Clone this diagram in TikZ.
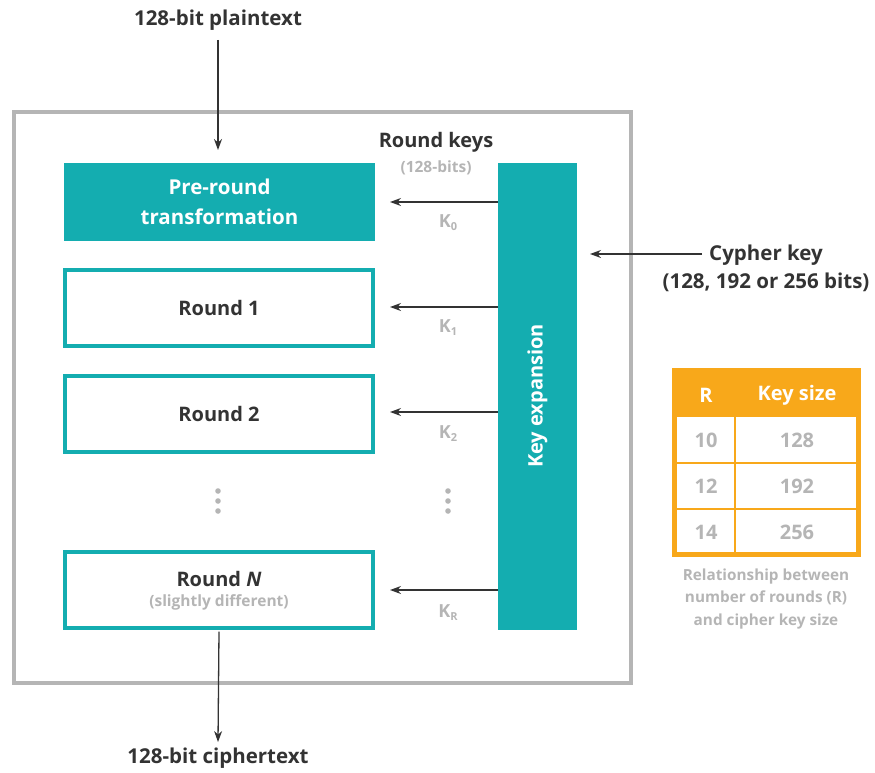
\documentclass[tikz,border=0pt]{standalone}
\usepackage{fontspec}
\setmainfont{Open Sans}
\usetikzlibrary{arrows.meta}
\definecolor{teal1}{HTML}{14ADB0}
\definecolor{dark}{HTML}{333333}
\definecolor{lgray}{HTML}{B5B5B5}
\definecolor{orng}{HTML}{F8A81A}
\tikzset{
  title/.style={text=dark, font=\bfseries\fontsize{20.5}{24}\selectfont},
  roundbox/.style={draw=teal1, line width=4pt, fill=white, minimum width=308pt, minimum height=76pt, inner sep=0pt, text=dark, font=\bfseries\fontsize{20}{24}\selectfont},
  arr/.style={draw=dark, line width=1.3pt, -{Stealth[length=11pt,width=8pt]}},
  klabel/.style={text=lgray, font=\bfseries\fontsize{18}{18}\selectfont},
  dotc/.style={fill=lgray, draw=none},
  celltxt/.style={text=lgray, font=\bfseries\fontsize{20}{20}\selectfont},
  captxt/.style={text=lgray, font=\bfseries\fontsize{15.3}{22.5}\selectfont, align=center}
}
\newcommand{\ksub}[1]{K{\fontsize{11}{11}\selectfont\raisebox{-3pt}{#1}}}
\begin{document}
\begin{tikzpicture}[x=1pt,y=-1pt]
\useasboundingbox (0,0) rectangle (875,772);
% outer frame
\node[draw=lgray, line width=4pt, minimum width=617pt, minimum height=571pt, inner sep=0pt, anchor=north west] (frame) at (12,110) {};
% top / bottom labels
\node[title] (plain) at (218,20) {128-bit plaintext};
\node[title] (cipher) at (218,758) {128-bit ciphertext};
% pre-round
\node[fill=teal1, minimum width=311pt, minimum height=78pt, inner sep=0pt, text=white, align=center, font=\bfseries\fontsize{20.5}{30}\selectfont] (pre) at (219.5,202) {Pre-round\\transformation};
\node[roundbox] (r1) at (219,307.5) {Round 1};
\node[roundbox] (r2) at (219,413.5) {Round 2};
\node[roundbox] (rN) at (219,589.5) {};
\node[text=dark, font=\bfseries\fontsize{20}{24}\selectfont] (rNt) at (219,579) {Round \textit{N}};
\node[text=lgray, font=\bfseries\fontsize{15.5}{16}\selectfont] (rNs) at (219,602) {(slightly different)};
% dots
\fill[dotc] (218,491) circle (2.8pt) (218,501) circle (2.8pt) (218,511) circle (2.8pt);
\fill[dotc] (448,491) circle (2.8pt) (448,501) circle (2.8pt) (448,511) circle (2.8pt);
% key expansion
\node[fill=teal1, minimum width=79pt, minimum height=467pt, inner sep=0pt, anchor=north west] (kx) at (498,163) {};
\node[rotate=90, text=white, font=\bfseries\fontsize{20}{24}\selectfont] (kxt) at (537.5,396) {Key expansion};
% round keys label
\node[text=dark, font=\bfseries\fontsize{20}{24}\selectfont] (rk) at (436,142) {Round keys};
\node[text=lgray, font=\bfseries\fontsize{15.5}{16}\selectfont] (rkb) at (436,168) {(128-bits)};
% arrows from key expansion
\coordinate (k0e) at (390,202);
\coordinate (k1e) at (390,307);
\coordinate (k2e) at (390,412);
\coordinate (kRe) at (390,590);
\draw[arr] (kx.west |- k0e) -- (k0e);
\draw[arr] (kx.west |- k1e) -- (k1e);
\draw[arr] (kx.west |- k2e) -- (k2e);
\draw[arr] (kx.west |- kRe) -- (kRe);
\node[klabel] (k0) at (448,223) {\ksub{0}};
\node[klabel] (k1) at (448,328) {\ksub{1}};
\node[klabel] (k2) at (448,434) {\ksub{2}};
\node[klabel] (kR) at (448,613) {\ksub{R}};
% plaintext / ciphertext arrows
\coordinate (pe) at (218,150);
\draw[arr] (plain.south) ++(0,6) -- (pe);
\coordinate (ce) at (218,742);
\draw[arr] (rN.south) ++(0,2) -- (ce);
% cypher key
\node[text=dark, align=center, font=\bfseries\fontsize{20.5}{28}\selectfont] (ck) at (766,268) {Cypher key\\(128, 192 or 256 bits)};
\coordinate (cks) at (702,254);
\coordinate (cke) at (590,254);
\draw[arr] (cks) -- (cke);
% table
\node[fill=orng, minimum width=189pt, minimum height=189pt, inner sep=0pt, anchor=north west] (tab) at (672,368) {};
\fill[white] (677,417) rectangle (734,462);
\fill[white] (736,417) rectangle (856,462);
\fill[white] (677,464) rectangle (734,508);
\fill[white] (736,464) rectangle (856,508);
\fill[white] (677,510) rectangle (734,552);
\fill[white] (736,510) rectangle (856,552);
\node[text=white, font=\bfseries\fontsize{20}{20}\selectfont] (hR) at (706,395) {R};
\node[text=white, font=\bfseries\fontsize{20}{20}\selectfont] (hK) at (797,395) {Key size};
\node[celltxt] (c10) at (706,440) {10};
\node[celltxt] (c128) at (797,440) {128};
\node[celltxt] (c12) at (706,486) {12};
\node[celltxt] (c192) at (797,486) {192};
\node[celltxt] (c14) at (706,532) {14};
\node[celltxt] (c256) at (797,532) {256};
\node[captxt] (cap) at (766,599) {Relationship between\\number of rounds (R)\\and cipher key size};
\end{tikzpicture}
\end{document}
